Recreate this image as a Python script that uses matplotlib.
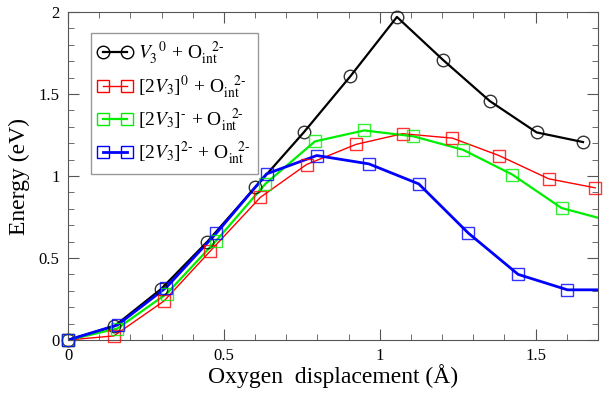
import matplotlib.pyplot as plt
import numpy as np

plt.rcParams["font.family"] = "Liberation Serif"
plt.rcParams["mathtext.fontset"] = "stix"
plt.rcParams["font.size"] = 12

# oxygen displacement (A) and energy (eV)
x_v3 = [0, 0.149, 0.298, 0.447, 0.600, 0.757, 0.906, 1.055, 1.204, 1.353, 1.503, 1.652]
e_v3 = [0, 0.085, 0.31, 0.60, 0.93, 1.268, 1.609, 1.97, 1.706, 1.457, 1.266, 1.207]

x_2v3_0 = [0, 0.147, 0.308, 0.457, 0.617, 0.765, 0.924, 1.073, 1.233, 1.382, 1.542, 1.691]
e_2v3_0 = [0, 0.025, 0.238, 0.544, 0.87, 1.07, 1.193, 1.258, 1.231, 1.125, 0.983, 0.928]

x_2v3_m = [0, 0.158, 0.317, 0.475, 0.633, 0.792, 0.950, 1.108, 1.267, 1.425, 1.583, 1.742]
e_2v3_m = [0, 0.07, 0.283, 0.605, 0.952, 1.211, 1.278, 1.242, 1.16, 1.009, 0.805, 0.724]

x_2v3_2m = [0, 0.159, 0.315, 0.475, 0.637, 0.798, 0.965, 1.125, 1.284, 1.444, 1.602, 1.762]
e_2v3_2m = [0, 0.092, 0.32, 0.65, 1.013, 1.125, 1.074, 0.952, 0.652, 0.40, 0.306, 0.306]

labels = [
    r"$V_3^{\ \ 0}$ + O$_{\mathrm{int}}^{\ \ \ 2\text{-}}$",
    r"[2$V_3$]$^{0}$ + O$_{\mathrm{int}}^{\ \ \ 2\text{-}}$",
    r"[2$V_3$]$^{\text{-}}$ + O$_{\mathrm{int}}^{\ \ \ 2\text{-}}$",
    r"[2$V_3$]$^{2\text{-}}$ + O$_{\mathrm{int}}^{\ \ \ 2\text{-}}$",
]
series = [(x_v3, e_v3), (x_2v3_0, e_2v3_0), (x_2v3_m, e_2v3_m), (x_2v3_2m, e_2v3_2m)]
colors = ["black", "#ff0000", "#00ee00", "#0000ff"]
markers = ["o", "s", "s", "s"]
msizes = [9, 8, 8, 8]
lws = [1.6, 1.0, 1.6, 2.0]

XMAX = 1.7

fig = plt.figure(figsize=(6.03, 3.98), dpi=100)
ax = fig.add_axes([0.1128, 0.1457, 0.8789, 0.8241])

for (x, y), lab, c, m, ms, lw in zip(series, labels, colors, markers, msizes, lws):
    x = np.array(x)
    y = np.array(y)
    # line is clipped at the frame, markers are not
    ax.plot(x, y, color=c, lw=lw, zorder=2)
    inside = x <= XMAX + 0.005
    ax.plot(x[inside], y[inside], ls="none", marker=m, ms=ms, mfc="none", mec=c,
            mew=1.0, alpha=0.8, clip_on=False, zorder=3)
    ax.plot([], [], color=c, lw=lw, marker=m, ms=ms, mfc="none", mec=c, mew=1.0, label=lab)

ax.set_xlim(0, XMAX)
ax.set_ylim(0, 2)
ax.set_xticks([0, 0.5, 1, 1.5])
ax.set_xticklabels(["0", "0.5", "1", "1.5"])
ax.set_yticks([0, 0.5, 1, 1.5, 2])
ax.set_yticklabels(["0", "0.5", "1", "1.5", "2"])
ax.set_xticks(np.arange(0, 1.71, 0.1), minor=True)
ax.set_yticks(np.arange(0, 2.01, 0.1), minor=True)
ax.tick_params(which="both", direction="in", top=True, right=True, color="#555555")
ax.tick_params(which="major", length=8, labelsize=12, pad=6)
ax.tick_params(which="minor", length=4)
for s in ax.spines.values():
    s.set_color("#555555")

ax.set_xlabel("Oxygen  displacement (Å)", fontsize=17, labelpad=0)
ax.set_ylabel("Energy (eV)", fontsize=17, labelpad=6)

leg = ax.legend(loc="upper left", bbox_to_anchor=(0.043, 0.936), borderaxespad=0,
                numpoints=2, fontsize=14, fancybox=False, framealpha=1,
                edgecolor="#999999", handlelength=1.8, handletextpad=0.3,
                labelspacing=0.3, borderpad=0.35)
leg.get_frame().set_linewidth(1.0)

fig.savefig("out.png", dpi=100)
